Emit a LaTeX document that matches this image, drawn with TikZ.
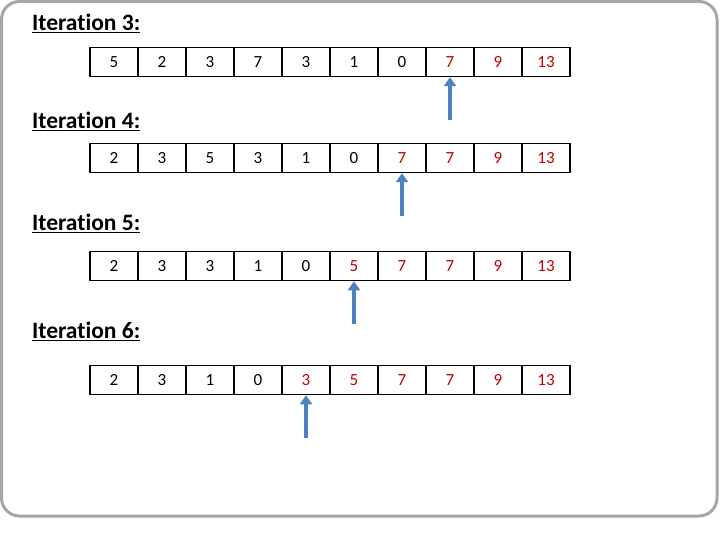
\documentclass[tikz,border=0pt]{standalone}
\usepackage{fontspec}
\setmainfont{Carlito}[Ligatures=NoCommon]
\usetikzlibrary{arrows.meta}
\definecolor{framegray}{RGB}{166,166,166}
\definecolor{pivotblue}{RGB}{79,129,189}
\definecolor{sortedred}{RGB}{192,0,0}

\begin{document}
\begin{tikzpicture}[x=1pt, y=-1pt,
	cell/.style={draw, line width=1.5pt, minimum width=48pt, minimum height=29pt, inner sep=0pt, font=\fontsize{17}{17}\selectfont},
	title/.style={anchor=west, inner sep=0pt, font=\fontsize{23.5}{24}\selectfont\bfseries},
	pointer/.style={-{Triangle[width=12pt,length=9pt]}, line width=3.5pt, color=pivotblue}]
	\useasboundingbox (0,0) rectangle (720,540);
	% outer frame
	\draw[framegray, line width=3pt, rounded corners=18pt] (1.5,1.5) rectangle (717,516);
	% one row per iteration: number / label y / row y / first sorted cell / values
	\foreach \r/\ly/\cy/\red/\vals in {3/23/62/8/{5,2,3,7,3,1,0,7,9,13},
			4/121/158/7/{2,3,5,3,1,0,7,7,9,13},
			5/223/266/6/{2,3,3,1,0,5,7,7,9,13},
			6/331/380/5/{2,3,1,0,3,5,7,7,9,13}} {
		\node[title] (t\r) at (32,\ly) {\underline{Iteration \r:}};
		\foreach \v [count=\i] in \vals {
			\pgfmathsetmacro\xc{90+48*(\i-1)+24}
			\ifnum\i<\red
				\node[cell] (r\r-\i) at (\xc,\cy) {\v};
			\else
				\node[cell, text=sortedred] (r\r-\i) at (\xc,\cy) {\v};
			\fi
		}
		\coordinate (p\r) at ([yshift=-43pt]r\r-\red.south);
		\draw[pointer] (p\r) -- (r\r-\red.south);
	}
\end{tikzpicture}
\end{document}
